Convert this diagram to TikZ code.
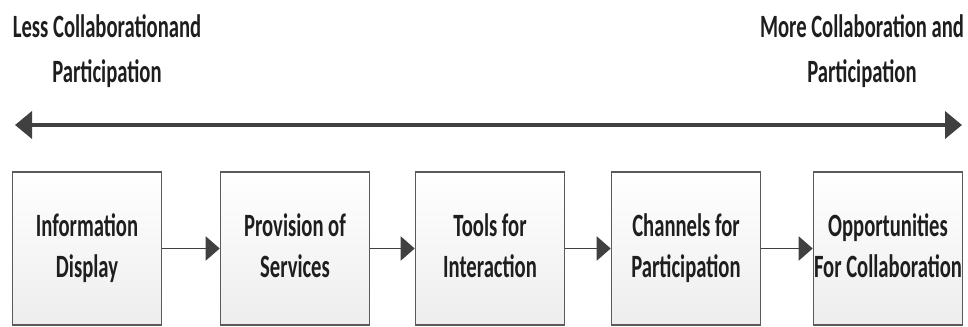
\documentclass[tikz,border=0pt]{standalone}
\usepackage{fontspec}
\setmainfont{Carlito}
\usepackage{graphicx}
\usepackage{tikz}
\usetikzlibrary{arrows.meta,positioning}

\definecolor{linegray}{HTML}{404040}
\definecolor{boxgray}{HTML}{5A5A5A}
\definecolor{txtgray}{HTML}{1E1E1E}

\newcommand{\narrowtext}[1]{\scalebox{0.635}[1]{\begin{tabular}{@{}c@{}}#1\end{tabular}}}

\begin{document}
\begin{tikzpicture}[
font=\bfseries\fontsize{18.5}{25.5}\selectfont,
stage/.style={draw=boxgray,line width=0.9pt,top color=white,bottom color=gray!14,minimum width=2.98cm,minimum height=3.06cm,inner sep=0pt,text=txtgray,font=\bfseries\fontsize{18.5}{23.2}\selectfont},
flow/.style={->,draw=linegray,line width=1.1pt,>={Triangle[length=0.28cm,width=0.48cm]}},
scalearrow/.style={<->,draw=linegray,line width=2.2pt,>={Triangle[length=0.34cm,width=0.54cm]}},
endlabel/.style={text=txtgray}
]
    \useasboundingbox (0,0) rectangle (19.36,6.52);

    % Draw scale
    \draw
  	(0.30,4.02) coordinate (less)
  	(19.24,4.02) coordinate (more);
  	\draw[scalearrow] (less) -- (more);

  	\node[endlabel] (lesslabel) at (2.14,5.50) {\narrowtext{Less Collaborationand\\Participation}};
  	\node[endlabel] (morelabel) at (17.24,5.50) {\narrowtext{More Collaboration and\\Participation}};

    % Draw stages
  	\node[stage] (display) at (1.74,1.55) {\narrowtext{Information\\Display}};
  	\node[stage] (services) at (5.90,1.55) {\narrowtext{Provision of\\Services}};
  	\node[stage] (tools) at (9.80,1.55) {\narrowtext{Tools for\\Interaction}};
  	\node[stage] (channels) at (13.72,1.55) {\narrowtext{Channels for\\Participation}};
  	\node[stage] (opportunities) at (17.76,1.55) {\narrowtext{Opportunities\\For Collaboration}};

  	\draw[flow] (display) -- (services);
  	\draw[flow] (services) -- (tools);
  	\draw[flow] (tools) -- (channels);
  	\draw[flow] (channels) -- (opportunities);
\end{tikzpicture}
\end{document}
